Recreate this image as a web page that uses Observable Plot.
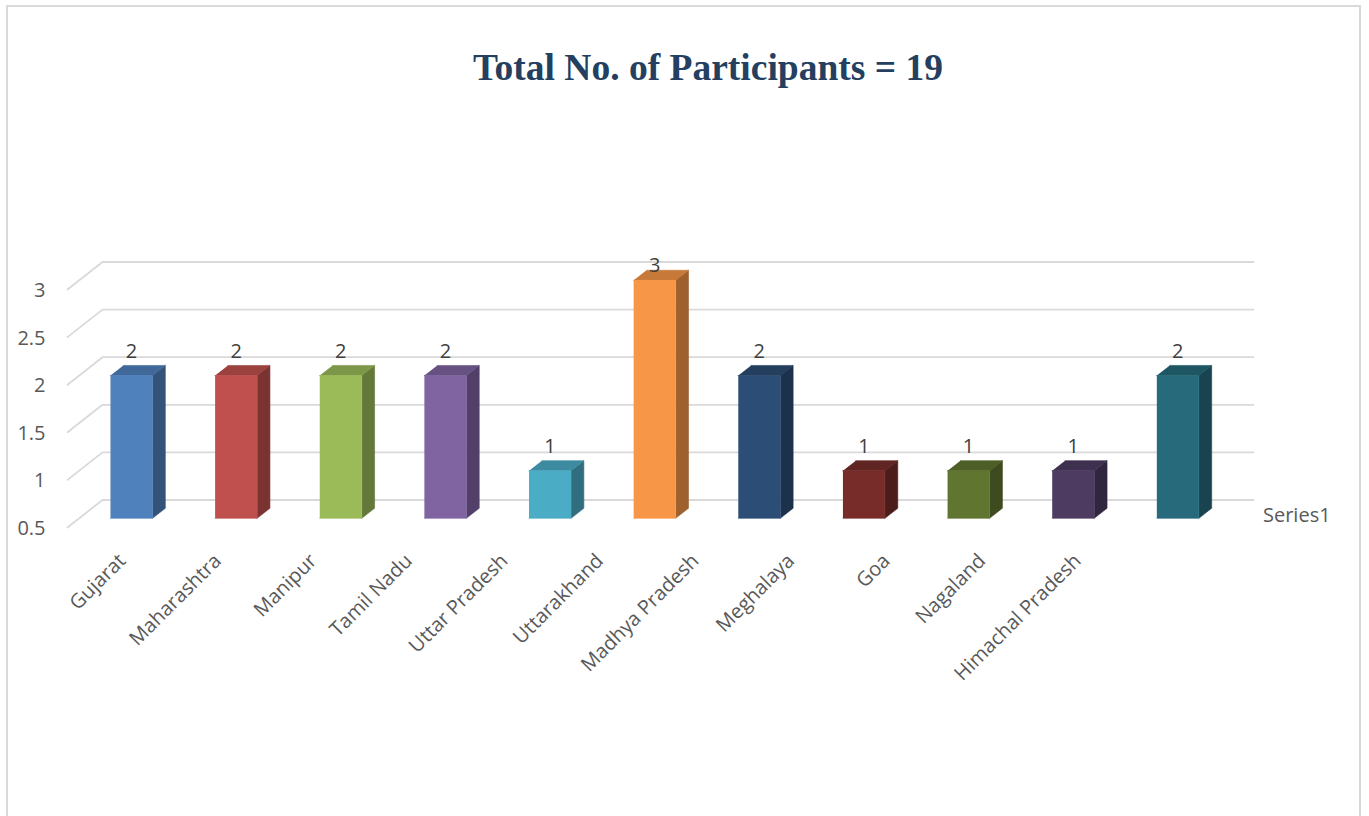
<!DOCTYPE html>
<html>
<head>
<meta charset="utf-8">
<script src="https://cdn.jsdelivr.net/npm/d3@7"></script>
<script src="https://cdn.jsdelivr.net/npm/@observablehq/plot@0.6"></script>
<style>
  html, body { margin: 0; padding: 0; background: #ffffff; }
  #wrap { position: relative; width: 1369px; height: 816px; overflow: hidden; }
  #border { position: absolute; left: 6px; top: 5px; width: 1355px; height: 830px; border: 2px solid #D9D9D9; box-sizing: border-box; }
  #chart { position: absolute; left: 0; top: 0; }
</style>
</head>
<body>
<div id="wrap"><div id="border"></div><div id="chart"></div></div>
<script>
const title = "Total No. of Participants = 19";
const states = ["Gujarat", "Maharashtra", "Manipur", "Tamil Nadu", "Uttar Pradesh", "Uttarakhand",
                "Madhya Pradesh", "Meghalaya", "Goa", "Nagaland", "Himachal Pradesh"];
const values = [2, 2, 2, 2, 1, 3, 2, 1, 1, 1, 2];
const barColors = ["#4F81BD", "#C0504D", "#9BBB59", "#8064A2", "#4BACC6", "#F79646",
                   "#2C4D75", "#772C2A", "#5F7530", "#4D3B62", "#276A7C"];
const yTicks = [0.5, 1, 1.5, 2, 2.5, 3];
const yTickLabels = ["0.5", "1", "1.5", "2", "2.5", "3"];
const seriesName = "Series1";

// 3D geometry (in data units): depth shift of the back wall
const DX = 0.3345, DY = 0.289;
const D0 = 0.333, D1 = 0.70, HALF = 0.2007;
const base = yTicks[0];
const proj = (s, v, d) => ({x: s + d * DX, y: v + d * DY});

const polys = [];
states.forEach((st, i) => {
  const c = i + 0.5, v = values[i];
  const col = d3.color(barColors[i]);
  const side = col.darker(1.25).formatHex();
  const top = col.darker(0.6).formatHex();
  const add = (face, color, pts) => pts.forEach(p => polys.push({key: st + face, color, ...proj(...p)}));
  add("-side", side, [[c + HALF, base, D0], [c + HALF, base, D1], [c + HALF, v, D1], [c + HALF, v, D0]]);
  add("-top", top, [[c - HALF, v, D0], [c + HALF, v, D0], [c + HALF, v, D1], [c - HALF, v, D1]]);
  add("-front", barColors[i], [[c - HALF, base, D0], [c + HALF, base, D0], [c + HALF, v, D0], [c - HALF, v, D0]]);
});

const n = states.length;
const grid = [];
yTicks.forEach(t => {
  [[0, 0], [0, 1], [n, 1]].forEach(([s, d]) => grid.push({t, ...proj(s, t, d)}));
});

const yLabels = yTicks.map((t, i) => ({label: yTickLabels[i], ...proj(0, t, 0)}));
const maxV = d3.max(values);
const valLabels = values.map((v, i) => ({v, label: String(v), ...proj(i + 0.5, v, D0)}));
const LABEL_STEP = 0.913;
const catLabels = states.map((s, i) => ({label: s, x: 0.6 + i * LABEL_STEP, y: base}));

const font = "'Open Sans', 'Liberation Sans', sans-serif";

const chart = Plot.plot({
  width: 1369,
  height: 816,
  margin: 0,
  x: {domain: [0, n], range: [67, 1218], axis: null},
  y: {domain: [0.5, 3], range: [527, 289], axis: null},
  style: {background: "transparent", overflow: "visible"},
  marks: [
    Plot.line(grid, {x: "x", y: "y", z: "t", stroke: "#D9D9D9", strokeWidth: 1.8}),
    Plot.line(polys, {x: "x", y: "y", z: "key", fill: "color", stroke: "color", strokeWidth: 0.6}),
    Plot.text(yLabels, {x: "x", y: "y", text: "label", textAnchor: "end", dx: -22, dy: 1, fontSize: 20, fill: "#595959", fontFamily: font}),
    Plot.text(valLabels.filter(d => d.v < maxV), {x: "x", y: "y", text: "label", dy: -24, fontSize: 20, fill: "#404040", fontFamily: font}),
    Plot.text(valLabels.filter(d => d.v === maxV), {x: "x", y: "y", text: "label", dy: -15, fontSize: 20, fill: "#404040", fontFamily: font}),
    Plot.text(catLabels, {x: "x", y: "y", text: "label", textAnchor: "end", rotate: -45, dx: -8, dy: 30, fontSize: 20, fill: "#595959", fontFamily: font}),
    Plot.text([{label: seriesName, ...proj(n, base, 0.5)}], {x: "x", y: "y", text: "label", textAnchor: "start", dx: 27, dy: 2, fontSize: 20, fill: "#595959", fontFamily: font}),
    Plot.text([title], {frameAnchor: "top", lineAnchor: "middle", dx: 23, dy: 67, fontSize: 37.5, fontWeight: "bold", fill: "#243F60", fontFamily: "'Liberation Serif', 'Times New Roman', serif"})
  ]
});
document.getElementById("chart").appendChild(chart);
</script>
</body>
</html>
